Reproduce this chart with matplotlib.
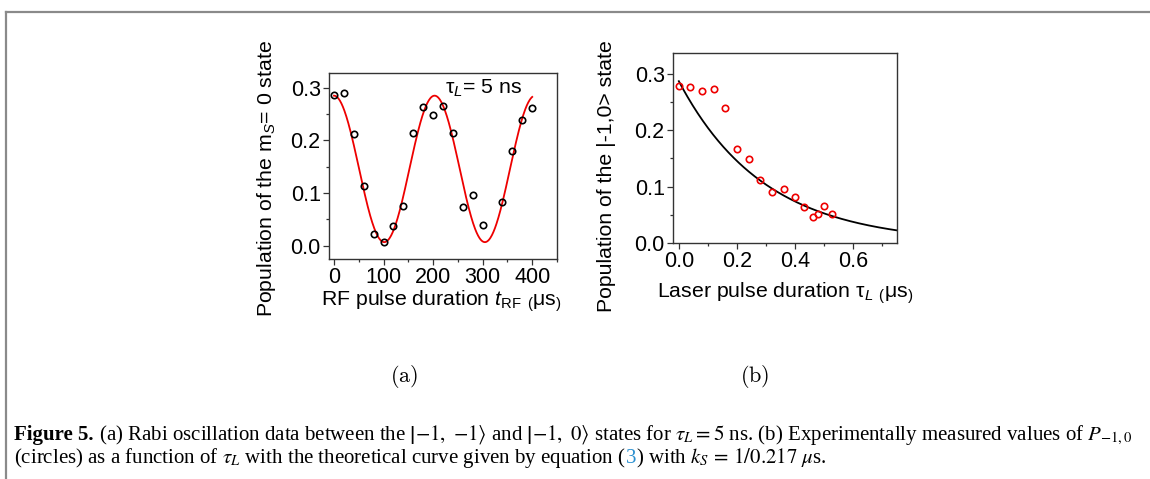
import numpy as np
import matplotlib
matplotlib.use("Agg")
import matplotlib.pyplot as plt
from matplotlib.ticker import MultipleLocator
from matplotlib.lines import Line2D

# ---------------- data ----------------
# Panel (a): Rabi oscillation
t_rf = [0, 20, 40, 60, 80, 100, 120, 140, 160, 180, 200, 220, 240, 260, 280, 300,
        340, 360, 380, 400]
pop_a = [0.286, 0.290, 0.213, 0.113, 0.022, 0.007, 0.037, 0.075, 0.214, 0.264,
         0.249, 0.265, 0.215, 0.074, 0.096, 0.039, 0.084, 0.180, 0.239, 0.261]
# fitted cosine
fit_a_offset = 0.146
fit_a_amp = 0.139
fit_a_period = 203.0
fit_a_range = (0, 400)

# Panel (b): population vs laser pulse duration
tau_l = [0.0, 0.04, 0.08, 0.12, 0.16, 0.20, 0.24, 0.28, 0.32, 0.36, 0.40, 0.43,
         0.46, 0.48, 0.50, 0.525]
pop_b = [0.278, 0.276, 0.269, 0.273, 0.240, 0.167, 0.149, 0.111, 0.091, 0.096,
         0.081, 0.064, 0.046, 0.052, 0.066, 0.051]
# theoretical exponential curve
fit_b_amp = 0.287
fit_b_tau = 0.294
fit_b_range = (0.0, 0.75)

xticks_a = [0, 100, 200, 300, 400]
yticks_a = [0.0, 0.1, 0.2, 0.3]
xticks_b = [0.0, 0.2, 0.4, 0.6]
yticks_b = [0.0, 0.1, 0.2, 0.3]

# ---------------- style ----------------
plt.rcParams['font.family'] = ['Liberation Sans', 'DejaVu Sans']
plt.rcParams['mathtext.fontset'] = 'custom'
plt.rcParams['mathtext.rm'] = 'Liberation Sans'
plt.rcParams['mathtext.it'] = 'Liberation Sans:italic'
plt.rcParams['mathtext.bf'] = 'Liberation Sans:bold'

W, H = 1150, 479
fig = plt.figure(figsize=(W / 100, H / 100), dpi=100)
fig.patch.set_facecolor('white')

def fx(px):
    return px / W

def fy(py):
    return 1 - py / H

# border frame
fig.add_artist(Line2D([fx(6), fx(6)], [fy(12), 0], color='#8a8a8a', lw=1.6,
                      transform=fig.transFigure))
fig.add_artist(Line2D([fx(6), 1], [fy(12), fy(12)], color='#8a8a8a', lw=1.6,
                      transform=fig.transFigure))

TFS = 15.5   # tick labels
LFS = 15.3   # axis labels
frame_c = '#333333'

def style_ax(ax):
    for s in ax.spines.values():
        s.set_color(frame_c)
        s.set_linewidth(1.0)
    ax.tick_params(which='both', direction='out', colors=frame_c,
                   labelcolor='black', labelsize=TFS, width=0.9)
    ax.tick_params(which='major', length=4.5, pad=1.5)
    ax.tick_params(which='minor', length=2.5)
    ax.tick_params(top=False, right=False)

# ---------------- panel (a) ----------------
axa = fig.add_axes([fx(329), fy(259), fx(557) - fx(329), fy(73) - fy(259)])
tt = np.linspace(fit_a_range[0], fit_a_range[1], 400)
axa.plot(tt, fit_a_offset + fit_a_amp * np.cos(2 * np.pi * tt / fit_a_period),
         color='#ee0000', lw=1.3)
axa.plot(t_rf, pop_a, 'o', mfc='none', mec='black', ms=4.6, mew=1.2)
axa.set_xlim(-10, 450)
axa.set_ylim(-0.025, 0.328)
axa.set_xticks(xticks_a)
axa.set_yticks(yticks_a)
axa.xaxis.set_minor_locator(MultipleLocator(50))
axa.yaxis.set_minor_locator(MultipleLocator(0.05))
axa.set_xticklabels([str(v) for v in xticks_a])
axa.set_yticklabels(['%.1f' % v for v in yticks_a])
style_ax(axa)
axa.text(0.51, 0.92, 'τ$_{L}$= 5 ns', transform=axa.transAxes, fontsize=LFS,
         ha='left', va='center')

fig.text(fx(266), fy(179), 'Population of the m$_{S}$= 0 state', rotation=90,
         ha='center', va='center', fontsize=LFS)
fig.text(fx(441), fy(301), r'RF pulse duration $t_{\rm RF}$ $_{(}$μs$_{)}$',
         ha='center', va='center', fontsize=LFS)

# ---------------- panel (b) ----------------
axb = fig.add_axes([fx(673), fy(243), fx(897) - fx(673), fy(53) - fy(243)])
xx = np.linspace(fit_b_range[0], fit_b_range[1], 300)
axb.plot(xx, fit_b_amp * np.exp(-xx / fit_b_tau), color='black', lw=1.3)
axb.plot(tau_l, pop_b, 'o', mfc='none', mec='#ee0000', ms=4.6, mew=1.2)
axb.set_xlim(-0.02, 0.75)
axb.set_ylim(0.0, 0.337)
axb.set_xticks(xticks_b)
axb.set_yticks(yticks_b)
axb.xaxis.set_minor_locator(MultipleLocator(0.1))
axb.yaxis.set_minor_locator(MultipleLocator(0.05))
axb.set_xticklabels(['%.1f' % v for v in xticks_b])
axb.set_yticklabels(['%.1f' % v for v in yticks_b])
style_ax(axb)

fig.text(fx(607), fy(176), 'Population of the |-1,0> state', rotation=90,
         ha='center', va='center', fontsize=LFS)
fig.text(fx(785), fy(293), r'Laser pulse duration τ$_{L}$ $_{(}$μs$_{)}$',
         ha='center', va='center', fontsize=LFS)

# ---------------- sub-captions ----------------
fig.text(fx(404), fy(376), r'$\mathrm{(a)}$', math_fontfamily='cm', fontsize=16,
         ha='center', va='center')
fig.text(fx(755), fy(376), r'$\mathrm{(b)}$', math_fontfamily='cm', fontsize=16,
         ha='center', va='center')

# ---------------- caption ----------------
CFS = 15.0
cap_kw = dict(fontsize=CFS, family=['Liberation Serif', 'DejaVu Serif'],
              math_fontfamily='stix', va='baseline', ha='left')

fig.canvas.draw()
renderer = fig.canvas.get_renderer()

def chain(pieces, x0_px, base_px):
    x = x0_px
    for txt, extra in pieces:
        kw = dict(cap_kw)
        kw.update(extra)
        t = fig.text(fx(x), fy(base_px), txt, **kw)
        bb = t.get_window_extent(renderer=renderer)
        x = bb.x1

line1 = [
    ('Figure 5.', dict(weight='bold')),
    (r' (a) Rabi oscillation data between the $\left|{-1},\ {-1}\right\rangle$ and'
     r' $\left|{-1},\ 0\right\rangle$'
     r' states for $\tau_L = 5$ ns. (b) Experimentally measured values of $P_{-1,0}$', {}),
]
line2 = [
    (r'(circles) as a function of $\tau_L$ with the theoretical curve given by equation (', {}),
    ('3', dict(color='#2a8fd0')),
    (r') with $k_S\,=\,1/0.217\ \mu$s.', {}),
]
chain(line1, 14, 440)
chain(line2, 14, 463)

fig.savefig('out.png', dpi=100, facecolor='white')
